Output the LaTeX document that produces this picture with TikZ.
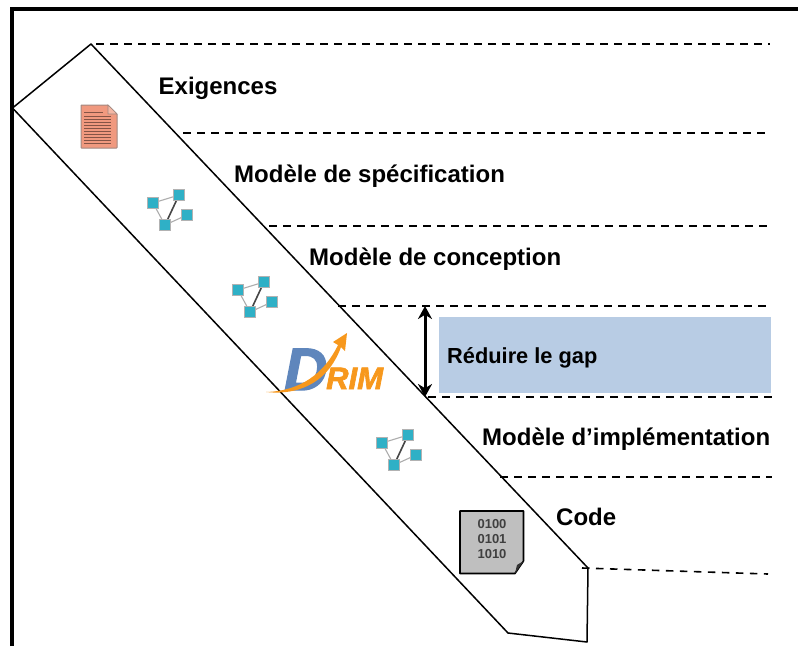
\documentclass[tikz,border=0pt]{standalone}
\usepackage{fontspec}
\setmainfont{Liberation Sans}
\newfontfamily\logofont[FakeBold=2.2,BoldFont={Liberation Sans Bold}]{Liberation Sans Bold Italic}
\usetikzlibrary{arrows.meta}
\definecolor{teal1}{HTML}{2FB0C6}
\definecolor{salmon}{HTML}{F0997F}
\definecolor{gapblue}{HTML}{B8CCE4}
\definecolor{drimblue}{HTML}{5F86BC}
\definecolor{drimorange}{HTML}{F7981D}
\tikzset{
  x=1pt,y=-1pt,
  frameline/.style={draw=black,line width=4pt},
  band/.style={draw=black,line width=1.5pt,line join=round},
  level/.style={draw=black,line width=1.6pt,dash pattern=on 7.5pt off 6.5pt},
  lbl/.style={anchor=base west,inner sep=0pt,font=\fontsize{24}{26}\selectfont\bfseries,text=black},
  sq/.style={draw=gray!60,fill=teal1,line width=.8pt,minimum size=11.5pt,inner sep=0pt,outer sep=0pt},
  thinlink/.style={draw=gray!65,line width=1.1pt},
  thicklink/.style={draw=gray!55!black,line width=1.6pt},
  net/.pic={
    \draw[thinlink] (-12,-11) -- (14,-19);
    \draw[thinlink] (-12,-11) -- (0,11);
    \draw[thicklink] (14,-19) -- (0,11);
    \draw[thinlink] (22,1) -- (0,11);
    \node[sq] (-a) at (-12,-11) {};
    \node[sq] (-b) at (14,-19) {};
    \node[sq] (-c) at (22,1) {};
    \node[sq] (-d) at (0,11) {};
  }
}
\begin{document}
\begin{tikzpicture}
\useasboundingbox (0,0) rectangle (798,646);
% frame
\coordinate (fb) at (12,646);
\coordinate (fc) at (12,9);
\coordinate (fe) at (798,9);
\draw[frameline,line join=miter] (fb) -- (fc) -- (fe);
% band
\coordinate (p1) at (91,44);
\coordinate (p2) at (12.5,108);
\coordinate (p3) at (508,633);
\coordinate (p4) at (587,642);
\coordinate (p5) at (588,568);
\draw[band] (p1) -- (p2) -- (p3) -- (p4) -- (p5) -- cycle;
% levels
\coordinate (l1a) at (96,44);   \coordinate (l1b) at (770,44);
\coordinate (l2a) at (183,133); \coordinate (l2b) at (768,133);
\coordinate (l3a) at (269,226); \coordinate (l3b) at (772,226);
\coordinate (l4a) at (338,306); \coordinate (l4b) at (772,306);
\coordinate (l5a) at (428,397); \coordinate (l5b) at (772,397);
\coordinate (l6a) at (500,477); \coordinate (l6b) at (772,477);
\coordinate (l7a) at (582,568); \coordinate (l7b) at (768,574);
\foreach \n in {1,...,7}{\draw[level] (l\n a) -- (l\n b);}
% labels
\node[lbl] (t1) at (158.5,94) {Exigences};
\node[lbl] (t2) at (234,182) {Modèle de spécification};
\node[lbl] (t3) at (309,265) {Modèle de conception};
\node[lbl] (t4) at (482,445) {Modèle d’implémentation};
\node[lbl] (t5) at (556,525) {Code};
% gap
\node[fill=gapblue,minimum width=332pt,minimum height=76pt,inner sep=0pt,anchor=north west] (gapbox) at (439,317) {};
\node[lbl,font=\fontsize{21.8}{24}\selectfont\bfseries] (gaptxt) at (447,363) {Réduire le gap};
\coordinate (ga) at (425,306);
\coordinate (gb) at (425,397);
\draw[{Stealth[length=13pt,width=14pt]}-{Stealth[length=13pt,width=14pt]},line width=3pt] (ga) -- (gb);
% requirement document
\draw[draw=gray!70!salmon,fill=salmon,line width=1pt,rounded corners=.5pt] (81,105) -- (108,105) -- (117,114) -- (117,148) -- (81,148) -- cycle;
\draw[draw=gray!70!salmon,fill=salmon!70,line width=.7pt] (108,105) -- (108,114) -- (117,114) -- cycle;
\draw[draw=black!45!salmon,line width=.9pt] (84,112.5) -- (103,112.5);
\foreach \y in {116,119,122,125,128,131,134,137,140,143}{
  \draw[draw=black!45!salmon,line width=.9pt] (84,\y) -- (111,\y);
}
% networks
\pic (n1) at (165,214) {net};
\pic (n2) at (250,301) {net};
\pic (n3) at (394,454) {net};
% code document
\draw[draw=black,fill=gray!50,line width=1.6pt,line join=round] (460,511) -- (523.5,511) -- (523.5,561) -- (515,573.5) -- (460,573.5) -- cycle;
\fill[black!80] (515,573.5) -- (517,565) -- (523.5,561) -- cycle;
\node[inner sep=0pt,align=center,font=\fontsize{13}{14.7}\selectfont\bfseries,text=black!75] (codetxt) at (492,539) {0100\\0101\\1010};
% logo
\node[inner sep=0pt,anchor=base west,font=\logofont\fontsize{60}{60}\selectfont,text=drimblue] (logoD) at (284,390) {D};
\fill[drimorange] (266,392) .. controls (300,391) and (324,374) .. (338,345) -- (333,342) -- (347,333) -- (345,351) -- (341,347) .. controls (330,378) and (304,396) .. (266,392) -- cycle;
\node[inner sep=0pt,anchor=base west,font=\logofont\fontsize{31}{31}\selectfont,text=drimorange] (logoR) at (326,389) {RIM};
\end{tikzpicture}
\end{document}
